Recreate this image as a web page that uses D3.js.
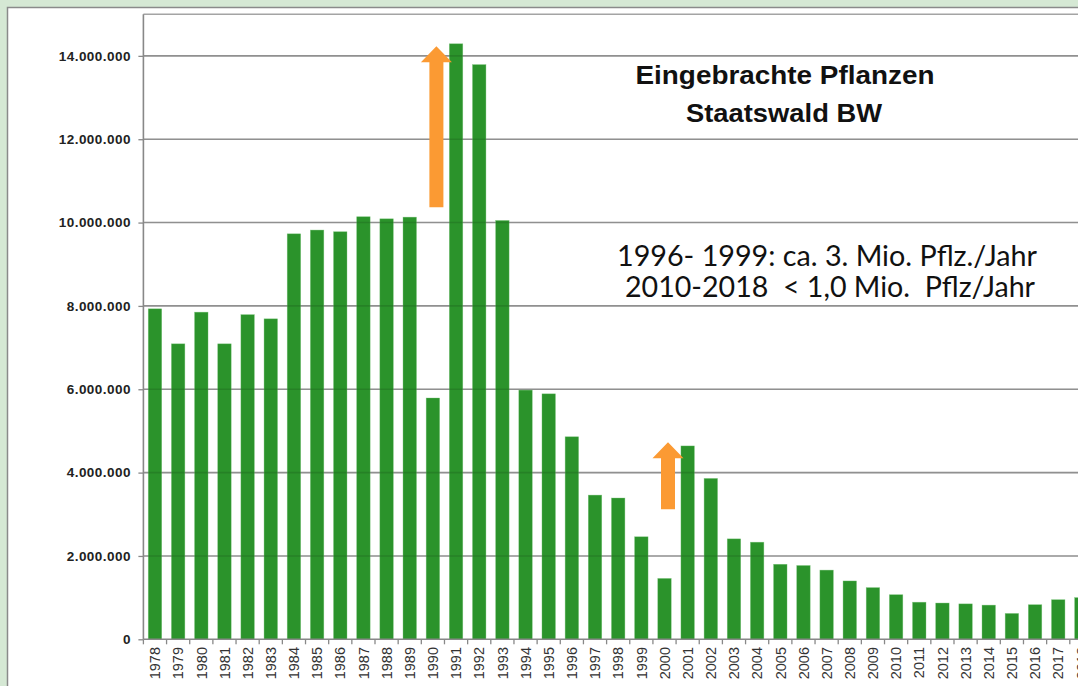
<!DOCTYPE html>
<html><head><meta charset="utf-8">
<script src="https://cdn.jsdelivr.net/npm/d3@7"></script>
<style>body{margin:0;background:#d5e8d4;}svg{display:block;} .pre{white-space:pre;}</style>
</head><body><svg id="c" width="1078" height="686"></svg>
<script>
const years = d3.range(1978, 2019).map(String);
const values = [7930000,7090000,7850000,7090000,7790000,7690000,9730000,9820000,9780000,10140000,
  10090000,10130000,5790000,14290000,13790000,10050000,5980000,5890000,4860000,3460000,
  3390000,2460000,1460000,4640000,3860000,2410000,2330000,1800000,1770000,1660000,
  1400000,1240000,1070000,890000,870000,850000,820000,620000,830000,950000,1000000];
const yTicks = [0,2000000,4000000,6000000,8000000,10000000,12000000,14000000];
const titleLines = ["Eingebrachte Pflanzen","Staatswald BW"];
const noteLines = ["1996- 1999: ca. 3. Mio. Pflz./Jahr","2010-2018  < 1,0 Mio.  Pflz/Jahr"];
const arrowYears = ["1990","2000"];
const arrowFrom = [10370000,3120000];
const arrowTo = [14230000,4730000];

(function(){
const svg = d3.select("#c");
svg.append("rect").attr("x",0).attr("y",0).attr("width",1078).attr("height",686).attr("fill","#d5e8d4");
svg.append("rect").attr("x",7.5).attr("y",7.5).attr("width",1200).attr("height",800)
  .attr("fill","#fff").attr("stroke","#8a8a8a").attr("stroke-width",1.5);

const pLeft = 143.4, pTop = 14.2, pBottom = 639.3, step = 23.16;
const x = d3.scaleBand().domain(years).range([pLeft, pLeft + step*years.length]).paddingInner(0.42).paddingOuter(0.21);
const y = d3.scaleLinear().domain([0,15000000]).range([pBottom, pTop]);

// grid
svg.append("g").selectAll("line").data(yTicks.filter(d=>d>0)).join("line")
  .attr("x1",pLeft).attr("x2",1078).attr("y1",d=>y(d)).attr("y2",d=>y(d))
  .attr("stroke","#a4a4a4").attr("stroke-width",1.6);
svg.append("line").attr("x1",pLeft).attr("x2",1078).attr("y1",pTop).attr("y2",pTop)
  .attr("stroke","#a4a4a4").attr("stroke-width",1.6);

// bars
svg.append("g").selectAll("rect").data(values).join("rect")
  .attr("x",(d,i)=>x(years[i])).attr("width",x.bandwidth())
  .attr("y",d=>y(d)).attr("height",d=>pBottom-y(d))
  .attr("fill","#2b932b").attr("stroke","#6fbf6f").attr("stroke-width",0.6).attr("stroke-opacity",0.6);
svg.append("g").selectAll("line").data(yTicks.filter(d=>d>0)).join("line")
  .attr("x1",pLeft).attr("x2",1078).attr("y1",d=>y(d)).attr("y2",d=>y(d))
  .attr("stroke","#000").attr("stroke-opacity",0.12).attr("stroke-width",1.6);

// y axis
const ya = svg.append("g").attr("transform",`translate(${pLeft},0)`)
  .call(d3.axisLeft(y).tickValues(yTicks).tickSize(5).tickPadding(8)
    .tickFormat(d=>d3.format(",")(d).replace(/,/g,".")));
ya.select(".domain").attr("stroke","#888").attr("stroke-width",1.6).attr("d",`M0,${pTop}V${pBottom}`);
ya.selectAll(".tick line").attr("stroke","#888").attr("stroke-width",1.3);
ya.selectAll(".tick text").attr("font-family","Liberation Sans, Arial, sans-serif")
  .attr("font-size",13.5).attr("font-weight","bold").attr("fill","#222")
  .attr("textLength",function(d){return this.getComputedTextLength()*1.06;});

// x axis
svg.append("line").attr("x1",pLeft).attr("x2",1078).attr("y1",pBottom).attr("y2",pBottom)
  .attr("stroke","#888").attr("stroke-width",1.6);
svg.append("g").selectAll("line").data(years).join("line")
  .attr("x1",d=>x(d)-x.step()*x.paddingInner()/2).attr("x2",d=>x(d)-x.step()*x.paddingInner()/2)
  .attr("y1",pBottom).attr("y2",pBottom+5).attr("stroke","#888").attr("stroke-width",1.3);
svg.append("g").selectAll("text").data(years).join("text")
  .attr("transform",d=>`translate(${x(d)+x.bandwidth()/2},647) rotate(-90)`)
  .attr("text-anchor","end").attr("dy","0.36em")
  .attr("font-family","Liberation Sans, Arial, sans-serif").attr("font-size",14.5)
  .attr("fill","#333").text(d=>d);

// arrows
const aw = 14, hw = 31, hh = 16;
arrowYears.forEach((yr,i)=>{
  const cx = x(yr)+x.bandwidth()/2+3.5;
  const yb = y(arrowFrom[i]), yt = y(arrowTo[i]);
  svg.append("path").attr("fill","#fb9a33")
    .attr("d",`M${cx-aw/2},${yb}V${yt+hh}H${cx-hw/2}L${cx},${yt}L${cx+hw/2},${yt+hh}H${cx+aw/2}V${yb}Z`);
});

// title
const tt = svg.append("g").attr("font-family","Liberation Sans, Arial, sans-serif")
  .attr("font-weight","bold").attr("font-size",25).attr("fill","#111").attr("text-anchor","middle");
tt.append("text").attr("x",785).attr("y",84).attr("textLength",299).attr("lengthAdjust","spacingAndGlyphs").text(titleLines[0]);
tt.append("text").attr("x",784).attr("y",122).attr("textLength",196).attr("lengthAdjust","spacingAndGlyphs").text(titleLines[1]);

const nt = svg.append("g").attr("font-family","Lato, 'Open Sans', sans-serif")
  .attr("font-size",28).attr("fill","#111").attr("text-anchor","middle");
nt.append("text").attr("class","pre").attr("xml:space","preserve").attr("x",827).attr("y",266)
  .attr("textLength",420).attr("lengthAdjust","spacingAndGlyphs").text(noteLines[0]);
nt.append("text").attr("class","pre").attr("xml:space","preserve").attr("x",830).attr("y",297)
  .attr("textLength",410).attr("lengthAdjust","spacingAndGlyphs").text(noteLines[1]);
})();
</script></body></html>
